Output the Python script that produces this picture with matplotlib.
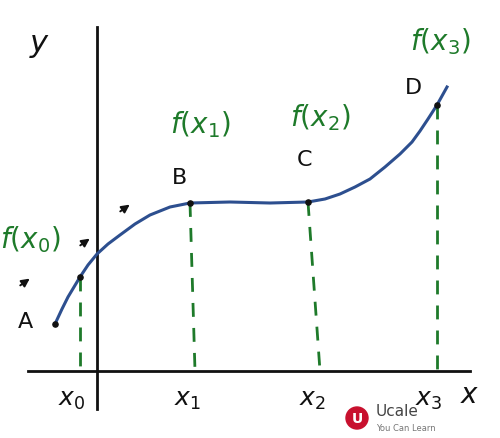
import matplotlib.pyplot as plt
from matplotlib.patches import Circle

# curve points (pixel coordinates)
curve_x = [55, 62, 68, 74, 80, 88, 97, 108, 120, 135, 150, 170, 190, 230, 270, 308, 325, 340, 355, 370, 385, 400, 412, 420, 428, 437, 447]
curve_y = [325, 310, 298, 288, 278, 266, 255, 245, 236, 225, 216, 208, 204, 203, 204, 203, 200, 195, 188, 180, 168, 155, 143, 132, 120, 106, 88]

# marked points and their dashed drops
point_x = [80, 190, 308, 437]
point_y = [278, 204, 203, 106]
drop_x = [80, 195, 320, 437]
tick_labels = ["$x_0$", "$x_1$", "$x_2$", "$x_3$"]
f_labels = ["$f(x_0)$", "$f(x_1)$", "$f(x_2)$", "$f(x_3)$"]
f_pos = [(30, 240), (200, 125), (320, 118), (440, 42)]
letters = ["A", "B", "C", "D"]
letter_pos = [(25, 322), (180, 178), (305, 160), (413, 88)]

fig = plt.figure(figsize=(5.0, 4.39), dpi=100)
ax = fig.add_axes([0, 0, 1, 1])
ax.set_xlim(0, 500)
ax.set_ylim(439, 0)
ax.axis("off")

ink = "#111111"
green = "#1e7a2a"

# axes
ax.plot([97, 97], [28, 410], color=ink, lw=2)
ax.plot([28, 470], [372, 372], color=ink, lw=2)
ax.text(40, 45, "$y$", fontsize=22, color=ink, ha="center", va="center")
ax.text(470, 395, "$x$", fontsize=20, color=ink, ha="center", va="center")

# curve
ax.plot(curve_x, curve_y, color="#2d4f8f", lw=2.2)
ax.scatter([55] + point_x, [325] + point_y, s=14, color=ink, zorder=3)

for px, py, dx in zip(point_x, point_y, drop_x):
    ax.plot([px, dx], [py, 372], color=green, lw=2, ls=(0, (5, 4)))

for dx, lab in zip(drop_x, tick_labels):
    ax.text(dx - 8, 400, lab, fontsize=18, color=ink, ha="center", va="center")

for (fx, fy), lab in zip(f_pos, f_labels):
    ax.text(fx, fy, lab, fontsize=20, color=green, ha="center", va="center")

for (lx, ly), lab in zip(letter_pos, letters):
    ax.text(lx, ly, lab, fontsize=16, color=ink, ha="center", va="center")

# small arrows
for x0, y0 in [(18, 288), (78, 248), (118, 214)]:
    ax.annotate("", xy=(x0 + 14, y0 - 10), xytext=(x0, y0),
                arrowprops=dict(arrowstyle="-|>", color=ink, lw=1.4, mutation_scale=12))

# logo
ax.add_patch(Circle((357, 419), 11, color="#c8102e"))
ax.text(357, 419, "U", color="white", fontsize=10, fontweight="bold", ha="center", va="center")
ax.text(376, 412, "Ucale", color="#444444", fontsize=11, ha="left", va="center")
ax.text(376, 429, "You Can Learn", color="#777777", fontsize=6, ha="left", va="center")

fig.savefig("out.png", dpi=100)
